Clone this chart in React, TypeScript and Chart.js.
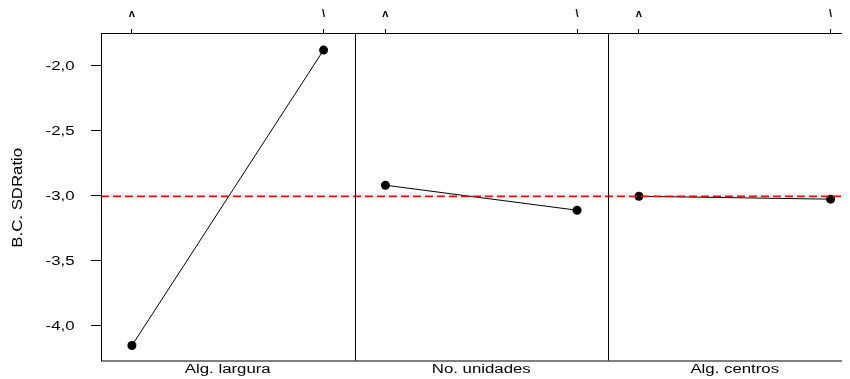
import React, { useEffect, useRef } from "react";
import { Chart, registerables } from "chart.js";

Chart.register(...registerables);

const factors = ["Alg. largura", "No. unidades", "Alg. centros"];
const levelLabels = ["ʌ", "\\"];
const algLargura = [-4.154, -1.885];
const noUnidades = [-2.923, -3.115];
const algCentros = [-3.008, -3.03];
const grandMean = -3.008;
const yTicks = [-4.0, -3.5, -3.0, -2.5, -2.0];
const yTitle = "B.C. SDRatio";

const seriesList = [algLargura, noUnidades, algCentros];
const levelOffset = [0.122, 0.878];

const W = 860;
const H = 371;
const FONT = "'Liberation Sans', Arial, sans-serif";

function drawStretched(
  ctx: CanvasRenderingContext2D,
  text: string,
  x: number,
  y: number,
  align: CanvasTextAlign,
  baseline: CanvasTextBaseline,
  sx: number,
  size: number,
  rotate = 0
) {
  ctx.save();
  ctx.translate(x, y);
  if (rotate) ctx.rotate(rotate);
  ctx.scale(sx, 1);
  ctx.font = `${size}px ${FONT}`;
  ctx.fillStyle = "#000";
  ctx.textAlign = align;
  ctx.textBaseline = baseline;
  ctx.fillText(text, 0, 0);
  ctx.restore();
}

export default function App() {
  const ref = useRef<HTMLCanvasElement | null>(null);

  useEffect(() => {
    if (!ref.current) return;
    Chart.defaults.font.family = FONT;
    const datasets: any[] = seriesList.map((vals, i) => ({
      data: vals.map((v, j) => ({ x: i + levelOffset[j], y: v })),
      borderColor: "#000",
      borderWidth: 1,
      backgroundColor: "#000",
      pointRadius: 4.5,
      pointBackgroundColor: "#000",
      pointBorderWidth: 0,
      order: 2,
    }));
    datasets.push({
      data: [
        { x: 0, y: grandMean },
        { x: factors.length, y: grandMean },
      ],
      borderColor: "#ff0000",
      borderWidth: 1.7,
      borderDash: [8, 4],
      pointRadius: 0,
      order: 1,
    });

    const framePlugin = {
      id: "frame",
      afterDraw(chart: any) {
        const { ctx, chartArea, scales } = chart;
        ctx.save();
        ctx.strokeStyle = "#000";
        ctx.lineWidth = 1;
        ctx.strokeRect(
          Math.round(chartArea.left) + 0.5,
          Math.round(chartArea.top) + 0.5,
          chartArea.right - chartArea.left,
          chartArea.bottom - chartArea.top
        );
        for (let i = 1; i < factors.length; i++) {
          const x = Math.round(scales.x.getPixelForValue(i)) + 0.5;
          ctx.beginPath();
          ctx.moveTo(x, chartArea.top);
          ctx.lineTo(x, chartArea.bottom);
          ctx.stroke();
        }
        ctx.restore();
        yTicks.forEach((v) => {
          const y = scales.y.getPixelForValue(v);
          drawStretched(
            ctx,
            v.toFixed(1).replace(".", ","),
            66.5,
            y + 1.5,
            "right",
            "middle",
            1.4,
            12
          );
        });
        factors.forEach((f, i) => {
          const x = scales.x.getPixelForValue(i + 0.5);
          drawStretched(
            ctx,
            f,
            x,
            chartArea.bottom + 12,
            "center",
            "alphabetic",
            1.4,
            12
          );
        });
        drawStretched(
          ctx,
          yTitle,
          10,
          (chartArea.top + chartArea.bottom) / 2 + 1,
          "center",
          "middle",
          1.12,
          15,
          -Math.PI / 2
        );
      },
    };

    const chart = new Chart(ref.current, {
      type: "line",
      data: { datasets },
      plugins: [framePlugin],
      options: {
        animation: false,
        responsive: false,
        layout: { padding: { left: 0, right: 6.5, top: 0, bottom: 0 } },
        plugins: { legend: { display: false }, tooltip: { enabled: false } },
        scales: {
          x: {
            type: "linear",
            position: "bottom",
            min: 0,
            max: factors.length,
            ticks: { display: false },
            grid: { display: false, drawTicks: false },
            border: { display: false },
            afterFit: (s: any) => {
              s.height = 18.5;
            },
          },
          xTop: {
            type: "linear",
            position: "top",
            min: 0,
            max: factors.length,
            afterBuildTicks: (s: any) => {
              const t: any[] = [];
              factors.forEach((_, i) =>
                levelOffset.forEach((o) => t.push({ value: i + o }))
              );
              s.ticks = t;
            },
            ticks: {
              callback: (_v: any, idx: number) => levelLabels[idx % 2],
              color: "#000",
              font: { size: 11, weight: "bold" },
              padding: 8,
              maxRotation: 0,
              autoSkip: false,
            },
            grid: {
              drawOnChartArea: false,
              tickLength: 4,
              color: "#000",
            },
            border: { display: false },
            afterFit: (s: any) => {
              s.height = 25;
            },
          },
          y: {
            type: "linear",
            min: -4.269,
            max: -1.754,
            afterBuildTicks: (s: any) => {
              s.ticks = yTicks.map((v) => ({ value: v }));
            },
            ticks: { display: false },
            grid: {
              drawOnChartArea: false,
              tickLength: 10,
              color: "#000",
            },
            border: { display: false },
            afterFit: (s: any) => {
              s.width = 93;
            },
          },
        },
      },
    });
    return () => chart.destroy();
  }, []);

  return (
    <div style={{ width: 842, height: H, overflow: "hidden" }}>
      <canvas
        ref={ref}
        width={W}
        height={H}
        style={{ width: W, height: H, display: "block" }}
      />
    </div>
  );
}
